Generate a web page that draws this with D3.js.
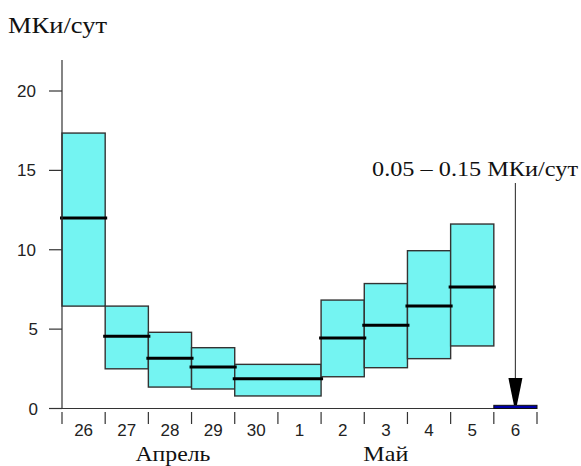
<!DOCTYPE html>
<html><head><meta charset="utf-8">
<script src="https://cdn.jsdelivr.net/npm/d3@7/dist/d3.min.js"></script>
<style>body{margin:0;background:#fff}svg{display:block}</style>
</head><body>
<svg id="c" width="581" height="466"></svg>
<script>
const categories = ["26","27","28","29","30","1","2","3","4","5","6"];
const boxStart = ["26","27","28","29","30","2","3","4","5"];
const boxEnd   = ["26","27","28","29","1","2","3","4","5"];
const boxLow   = [6.45, 2.5, 1.35, 1.23, 0.79, 2.0, 2.57, 3.14, 3.94];
const boxMed   = [12.0, 4.55, 3.16, 2.61, 1.88, 4.44, 5.25, 6.46, 7.65];
const boxHigh  = [17.35, 6.45, 4.8, 3.83, 2.78, 6.83, 7.87, 9.94, 11.62];
const lastDay = "6", lastLow = 0.05, lastHigh = 0.15;
const yTicks = [0, 5, 10, 15, 20];
const months = [{name:"Апрель", from:"26", to:"30"}, {name:"Май", from:"1", to:"5"}];
const yTitle = "МКи/сут";
const note = "0.05 – 0.15 МКи/сут";

const svg = d3.select("#c");
const x = d3.scaleBand().domain(categories).range([62, 537]).padding(0);
const y = d3.scaleLinear().domain([0, 20]).range([408.5, 91]);
const serif = "Liberation Serif, Times New Roman, serif";
const sans = "Liberation Sans, Arial, sans-serif";

// boxes
const boxes = boxStart.map((s,i)=>({s, e:boxEnd[i], lo:boxLow[i], md:boxMed[i], hi:boxHigh[i]}));
svg.selectAll("rect.box").data(boxes).enter().append("rect")
  .attr("x", d=>x(d.s)).attr("width", d=>x(d.e)+x.bandwidth()-x(d.s))
  .attr("y", d=>y(d.hi)).attr("height", d=>y(d.lo)-y(d.hi))
  .attr("fill", "#74f4f2").attr("stroke", "#333").attr("stroke-width", 1.4);
svg.selectAll("line.med").data(boxes).enter().append("line")
  .attr("x1", d=>x(d.s)-2).attr("x2", d=>x(d.e)+x.bandwidth()+2)
  .attr("y1", d=>y(d.md)).attr("y2", d=>y(d.md))
  .attr("stroke", "#000").attr("stroke-width", 3);

// axes
const g = svg.append("g");
g.append("line").attr("x1",62).attr("x2",62).attr("y1",60).attr("y2",y(0)).attr("stroke","#333").attr("stroke-width",1.2);
g.append("line").attr("x1",62).attr("x2",x.range()[1]).attr("y1",y(0)).attr("y2",y(0)).attr("stroke","#333").attr("stroke-width",1.2);
yTicks.forEach(t=>{
  g.append("line").attr("x1",49).attr("x2",62).attr("y1",y(t)).attr("y2",y(t)).attr("stroke","#333").attr("stroke-width",1.2);
  g.append("text").attr("x", t<10?38:36).attr("y", y(t)).attr("dy","0.36em").attr("text-anchor","end")
   .attr("font-family",sans).attr("font-size",17).attr("fill","#222").text(t);
});
const bounds = categories.map(c=>x(c)).concat([x.range()[1]]);
bounds.forEach(b=>{
  g.append("line").attr("x1",b).attr("x2",b).attr("y1",412).attr("y2",424).attr("stroke","#333").attr("stroke-width",1.2);
});
categories.forEach(c=>{
  g.append("text").attr("x", x(c)+x.bandwidth()/2).attr("y", 436).attr("text-anchor","middle")
   .attr("font-family",sans).attr("font-size",17).attr("fill","#222").text(c);
});
const monthW = {"Апрель":75, "Май":45};
months.forEach(m=>{
  const cx = (x(m.from)+x(m.to)+x.bandwidth())/2 + (m.name==="Апрель"?3:0);
  g.append("text").attr("x", cx).attr("y", 461).attr("text-anchor","middle")
   .attr("font-family",serif).attr("font-size",21).attr("fill","#111")
   .attr("textLength", monthW[m.name]).attr("lengthAdjust","spacingAndGlyphs").text(m.name);
});

// last day bar
svg.append("rect").attr("x", x(lastDay)).attr("width", x.bandwidth())
  .attr("y", y(lastHigh)-0.8).attr("height", y(lastLow)-y(lastHigh)+1.6)
  .attr("fill","#0000a8").attr("stroke","#111").attr("stroke-width",1);

// arrow
const ax = x(lastDay)+x.bandwidth()/2;
svg.append("line").attr("x1",ax).attr("x2",ax).attr("y1",183).attr("y2",380).attr("stroke","#444").attr("stroke-width",1.2);
const ty = y(lastHigh)-1;
svg.append("path").attr("d",
  `M${ax-7},378 L${ax+7},378 L${ax+5},388 L${ax+1.5},${ty} L${ax-1.5},${ty} L${ax-5},388 Z`)
  .attr("fill","#000");

// titles
svg.append("text").attr("x",8).attr("y",33).attr("font-family",serif)
  .attr("font-size",23).attr("fill","#111")
  .attr("textLength",99).attr("lengthAdjust","spacingAndGlyphs").text(yTitle);
svg.append("text").attr("x",372).attr("y",176).attr("font-family",serif)
  .attr("font-size",22).attr("fill","#111")
  .attr("textLength",206).attr("lengthAdjust","spacingAndGlyphs").text(note);
</script>
</body></html>
